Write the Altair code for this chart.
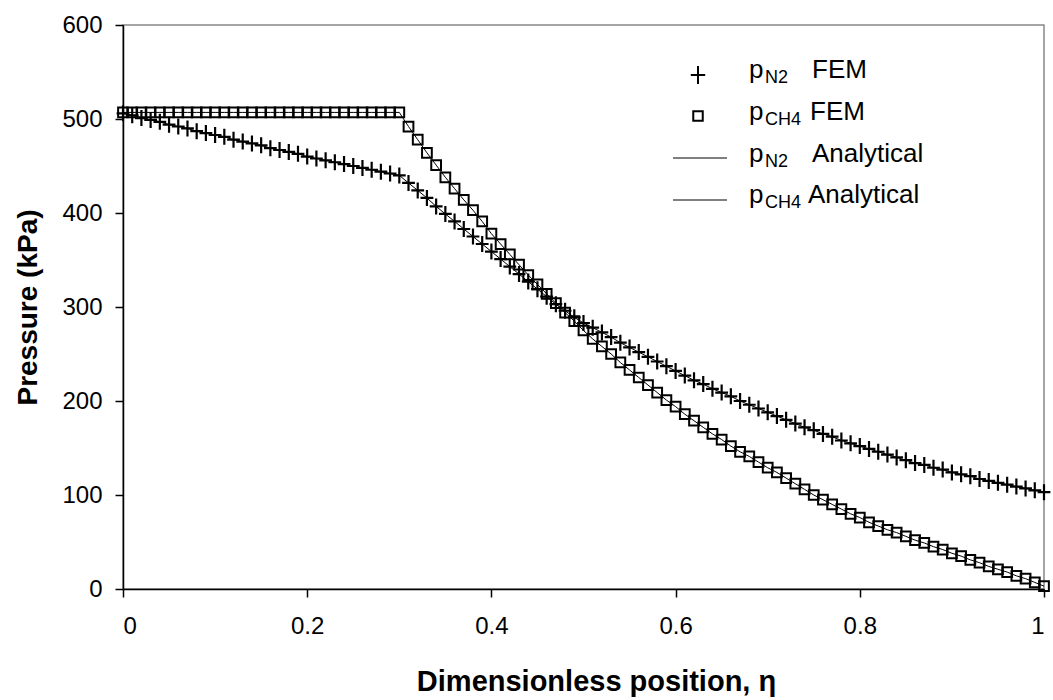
import altair as alt
import pandas as pd

# ---------------- data ----------------
eta = [round(i * 0.01, 2) for i in range(101)]

p_n2_fem = [
    506, 504, 501, 499, 497, 494, 492, 490, 487, 485,
    483, 481, 478, 476, 474, 472, 469, 467, 465, 463,
    460, 458, 456, 454, 452, 450, 448, 446, 444, 442,
    440, 432, 424, 416, 407, 399, 391, 383, 375, 367,
    359, 351, 343, 335, 327, 319, 311, 303, 296, 289,
    283, 278, 273, 268, 262, 257, 252, 247, 242, 237,
    232, 227, 222, 218, 213, 209, 205, 200, 196, 192,
    188, 184, 180, 176, 172, 169, 165, 162, 158, 155,
    152, 149, 146, 143, 140, 137, 134, 132, 129, 127,
    124, 122, 120, 117, 115, 113, 111, 109, 107, 105,
    103,
]

p_ch4_fem = [
    507, 507, 507, 507, 507, 507, 507, 507, 507, 507,
    507, 507, 507, 507, 507, 507, 507, 507, 507, 507,
    507, 507, 507, 507, 507, 507, 507, 507, 507, 507,
    507, 492, 478, 464, 451, 438, 426, 414, 403, 391,
    378, 367, 356, 345, 334, 324, 314, 304, 294, 285,
    275, 266, 258, 250, 241, 233, 225, 217, 209, 201,
    194, 186, 179, 172, 165, 159, 152, 146, 141, 135,
    129, 124, 118, 112, 106, 100, 95, 90, 85, 80,
    76, 71, 67, 63, 60, 56, 52, 49, 45, 42,
    38, 35, 31, 28, 24, 21, 18, 14, 11, 7,
    3,
]

# analytical solutions coincide with the FEM values in the picture
p_n2_analytical = list(p_n2_fem)
p_ch4_analytical = list(p_ch4_fem)

x_ticks = [0, 0.2, 0.4, 0.6, 0.8, 1]
y_ticks = [0, 100, 200, 300, 400, 500, 600]

FONT = "Liberation Sans"

n2 = pd.DataFrame({"eta": eta, "p": p_n2_fem})
ch4 = pd.DataFrame({"eta": eta, "p": p_ch4_fem})
n2a = pd.DataFrame({"eta": eta, "p": p_n2_analytical})
ch4a = pd.DataFrame({"eta": eta, "p": p_ch4_analytical})

xscale = alt.Scale(domain=[0, 1], nice=False, zero=False)
yscale = alt.Scale(domain=[0, 600], nice=False)

xaxis = alt.Axis(
    values=x_ticks, format="~g", title="Dimensionless position, η",
    grid=False, tickSize=8, labelPadding=17, labelFontSize=24,
    titleFontSize=29, titleFontWeight="bold", titleX=473, titleY=101,
    titleBaseline="alphabetic", titleAlign="center",
)
yaxis = alt.Axis(
    values=y_ticks, format="d", title="Pressure (kPa)",
    grid=False, tickSize=8, labelPadding=13, labelFontSize=24,
    titleFontSize=28, titleFontWeight="bold", titleX=-95,
    titleBaseline="middle", titleAngle=-90,
)

CROSS = "M-0.8,0H0.8M0,-1V1"

line_n2 = alt.Chart(n2a).mark_line(color="black", strokeWidth=1).encode(
    x=alt.X("eta:Q", scale=xscale, axis=xaxis),
    y=alt.Y("p:Q", scale=yscale, axis=yaxis),
)
line_ch4 = alt.Chart(ch4a).mark_line(color="black", strokeWidth=1).encode(
    x=alt.X("eta:Q", scale=xscale),
    y=alt.Y("p:Q", scale=yscale),
)
pts_n2 = alt.Chart(n2).mark_point(
    shape=CROSS, filled=False, stroke="black", strokeWidth=2.2, size=256, opacity=1
).encode(
    x=alt.X("eta:Q", scale=xscale),
    y=alt.Y("p:Q", scale=yscale),
)
pts_ch4 = alt.Chart(ch4).mark_point(
    shape="square", filled=False, stroke="black", strokeWidth=2, size=95, opacity=1
).encode(
    x=alt.X("eta:Q", scale=xscale),
    y=alt.Y("p:Q", scale=yscale),
)

# ---------------- legend (drawn by hand for the subscripts) ----------------
one = pd.DataFrame({"k": [0]})


def txt(s, x, y, size):
    return alt.Chart(one).mark_text(
        align="left", baseline="alphabetic", font=FONT, fontSize=size, color="black"
    ).encode(x=alt.value(x), y=alt.value(y), text=alt.value(s))


legend_layers = [
    alt.Chart(one).mark_point(
        shape=CROSS, filled=False, stroke="black", strokeWidth=2, size=324, opacity=1
    ).encode(x=alt.value(575), y=alt.value(50)),
    alt.Chart(one).mark_point(
        shape="square", filled=False, stroke="black", strokeWidth=2, size=90, opacity=1
    ).encode(x=alt.value(575), y=alt.value(91)),
    alt.Chart(one).mark_rule(color="black", strokeWidth=1).encode(
        x=alt.value(550), x2=alt.value(604), y=alt.value(133)
    ),
    alt.Chart(one).mark_rule(color="black", strokeWidth=1).encode(
        x=alt.value(550), x2=alt.value(604), y=alt.value(175)
    ),
    txt("p", 626, 53, 26), txt("N2", 642, 58, 18), txt("FEM", 689, 53, 26),
    txt("p", 626, 95, 26), txt("CH4", 642, 100, 18), txt("FEM", 687, 95, 26),
    txt("p", 626, 137, 26), txt("N2", 642, 142, 18), txt("Analytical", 689, 137, 26),
    txt("p", 626, 178, 26), txt("CH4", 642, 183, 18), txt("Analytical", 685, 178, 26),
]

chart = alt.layer(line_n2, line_ch4, pts_n2, pts_ch4, *legend_layers).properties(
    width=921,
    height=564,
    autosize=alt.AutoSizeParams(type="none"),
    padding={"left": 123, "top": 25, "right": 9, "bottom": 111},
    background="white",
).configure_view(
    stroke="#888888", strokeWidth=1.5
).configure_axis(
    domainColor="black", domainWidth=1.5, tickColor="black", tickWidth=1.5,
    labelColor="black", titleColor="black", labelFont=FONT, titleFont=FONT,
)

chart.save("out.html", embed_options={"renderer": "svg", "actions": False})
